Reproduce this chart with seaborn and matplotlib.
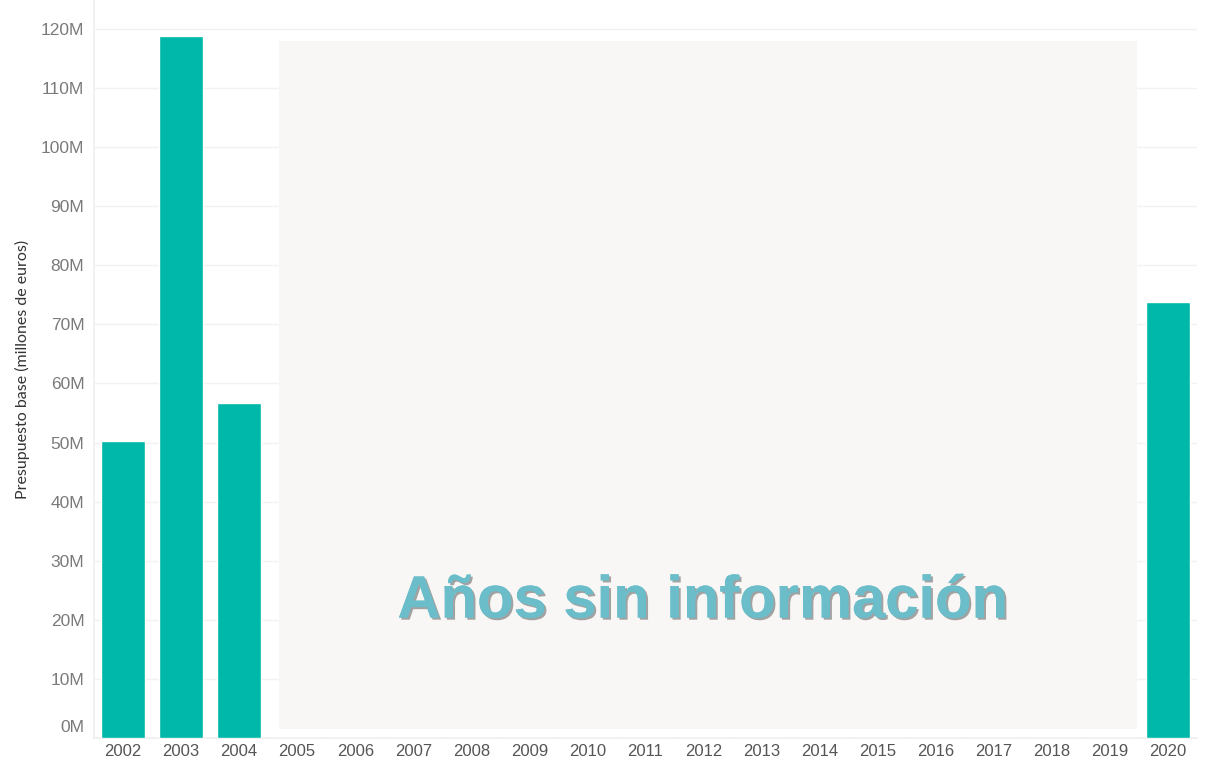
import matplotlib
matplotlib.use("Agg")
import matplotlib.pyplot as plt
import matplotlib.patheffects as pe
from matplotlib.patches import Rectangle
from matplotlib.ticker import FuncFormatter
from matplotlib.transforms import ScaledTranslation
import seaborn as sns
import pandas as pd

# Data
years = [str(y) for y in range(2002, 2021)]
budget_m = [50.3, 118.8, 56.7] + [0] * 15 + [73.8]
missing_years = ("2005", "2019")
missing_label = "Años sin información"

df = pd.DataFrame({"year": years, "budget": budget_m})

sns.set_theme(style="white")
plt.rcParams['font.family'] = ['Liberation Sans', 'DejaVu Sans']

fig = plt.figure(figsize=(12.19, 7.64), dpi=100)
ax = fig.add_axes([94 / 1219, 26 / 764, 1103 / 1219, 738 / 764])

sns.barplot(data=df, x="year", y="budget", color="#00b8a9", width=0.76,
            saturation=1, ax=ax, zorder=3)

ax.set_ylim(0, 124.9)
ax.set_xlim(-0.5, len(years) - 0.5)
ax.set_yticks(range(0, 121, 10))
ax.yaxis.set_major_formatter(FuncFormatter(lambda v, p: f"{int(v)}M"))
ax.grid(axis="y", color="#f2f2f2", linewidth=1, zorder=0)

# shaded block for years without data
i0 = years.index(missing_years[0])
i1 = years.index(missing_years[1])
ax.add_patch(Rectangle((i0 - 0.31, 1.5), (i1 + 0.47) - (i0 - 0.31), 116.4,
                       facecolor="#f8f7f5", edgecolor="none", zorder=2))
ax.text((i0 - 0.31 + i1 + 0.47) / 2 - 0.09, 23, missing_label, ha="center", va="center",
        fontsize=43, fontweight="bold", color="#6bbdca", zorder=4,
        path_effects=[pe.withSimplePatchShadow(offset=(1.5, -1.5), shadow_rgbFace="#999999", alpha=0.9),
                      pe.Normal()])

for s in ["top", "right"]:
    ax.spines[s].set_visible(False)
ax.spines["left"].set_color("#f0f0f0")
ax.spines["bottom"].set_color("#f0f0f0")

ax.tick_params(axis="y", labelsize=12.5, labelcolor="#7a7a7a", length=0, pad=7)
ax.tick_params(axis="x", labelsize=12, labelcolor="#555555", length=0, pad=4)
# the zero label sits a bit higher, as in the original
zero_lbl = ax.get_yticklabels()[0]
zero_lbl.set_transform(zero_lbl.get_transform() + ScaledTranslation(0, 9 / 72, fig.dpi_scale_trans))
ax.set_xlabel("")
ax.set_ylabel("Presupuesto base (millones de euros)", fontsize=11.5, color="#333333",
              family=["Lato", "DejaVu Sans"])
ax.yaxis.set_label_coords(-0.058, 0.5)

fig.savefig("out.png", dpi=100)
